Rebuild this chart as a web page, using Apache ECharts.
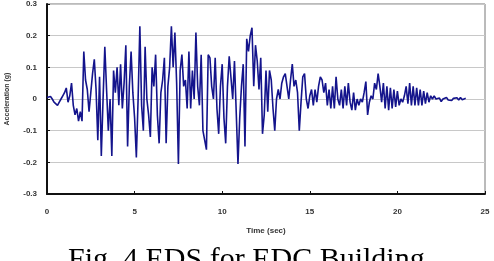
<!DOCTYPE html>
<html>
<head>
<meta charset="utf-8">
<script src="https://cdn.jsdelivr.net/npm/echarts@6/dist/echarts.min.js"></script>
<style>
html,body{margin:0;padding:0;background:#fff;}
#chart{width:494px;height:261px;}
</style>
</head>
<body>
<div id="chart"></div>
<script>
// sampling step of the record (s)
const dt = 0.1;
// acceleration (g), one value per dt starting at t = 0
const accel = [
  0.005, 0.01, 0.008, 0.0, -0.01, -0.005, -0.02, -0.01, 0.0, 0.01,
  0.02, 0.035, -0.01, 0.01, 0.05, -0.02, -0.05, -0.03, -0.07, -0.04,
  -0.07, 0.15, 0.06, 0.03, -0.04, 0.02, 0.08, 0.125, 0.03, -0.13,
  0.07, -0.18, 0.0, 0.165, 0.03, -0.1, 0.0, -0.18, 0.09, 0.02,
  0.1, -0.02, 0.11, -0.03, 0.05, 0.17, -0.15, 0.04, 0.15, 0.02,
  -0.06, -0.185, 0.0, 0.23, -0.02, -0.1, 0.165, 0.0, -0.05, -0.12,
  0.1, 0.04, 0.14, -0.05, -0.14, 0.02, 0.06, 0.13, -0.14, 0.04,
  0.1, 0.23, 0.1, 0.21, 0.05, -0.205, 0.09, 0.14, 0.04, 0.06,
  -0.03, 0.15, -0.03, 0.09, 0.0, 0.21, 0.04, -0.02, 0.14, -0.1,
  -0.13, -0.16, 0.14, 0.13, 0.04, 0.0, 0.13, -0.03, -0.11, 0.04,
  0.11, -0.06, -0.14, 0.04, 0.135, 0.13, 0.0, 0.12, -0.04, -0.205,
  -0.06, 0.04, 0.11, -0.15, 0.19, 0.15, 0.2, 0.225, 0.04, 0.17,
  0.12, 0.03, 0.13, -0.11, -0.05, 0.09, -0.04, 0.09, 0.06, -0.03,
  -0.1, 0.0, 0.03, 0.0, 0.05, 0.07, 0.08, 0.04, 0.0, 0.06,
  0.11, 0.04, 0.06, 0.02, -0.1, -0.01, 0.07, 0.08, 0.0, -0.03,
  0.01, 0.03, -0.02, 0.03, -0.01, 0.04, 0.07, 0.06, 0.02, 0.05,
  -0.02, 0.03, -0.03, 0.04, -0.03, 0.07, 0.0, -0.02, 0.03, -0.03,
  0.04, -0.02, 0.05, -0.01, -0.035, 0.02, -0.035, 0.0, -0.02, 0.0,
  -0.01, 0.02, 0.055, -0.05, -0.01, 0.01, 0.0, 0.05, 0.03, 0.08,
  0.04, -0.01, 0.05, -0.03, 0.04, -0.035, 0.035, -0.03, 0.03, -0.025,
  0.025, -0.02, 0.0, -0.01, 0.01, 0.04, -0.015, 0.05, -0.02, 0.04,
  -0.02, 0.035, -0.02, 0.03, -0.02, 0.025, -0.015, 0.02, -0.01, 0.01,
  0.0, 0.01, 0.0, -0.005, 0.003, -0.008, 0.0, -0.005, 0.005, -0.003,
  0.003, -0.005, 0.002, -0.004, 0.004, -0.003, 0.005, -0.002, 0.004, 0.002
];
const xTicks = [0, 5, 10, 15, 20, 25];
const yTicks = [-0.3, -0.2, -0.1, 0, 0.1, 0.2, 0.3];
const yTickLabels = ['-0.3', '-0.2', '-0.1', '0', '0.1', '0.2', '0.3'];
const xTitle = 'Time (sec)';
const yTitle = 'Acceleration (g)';
const caption = 'Fig. 4 EDS for EDC Building';

const points = accel.map((v, i) => [+(i * dt).toFixed(2), v]);

const chart = echarts.init(document.getElementById('chart'), null, {renderer: 'canvas'});
const labelStyle = {fontFamily: 'Liberation Sans, Arial, sans-serif', fontWeight: 'bold', fontSize: 8, color: '#333'};
chart.setOption({
  animation: false,
  backgroundColor: '#fff',
  grid: {left: 47, top: 4, width: 438, height: 190, containLabel: false, outerBoundsMode: 'none',
         show: true, borderColor: '#777', borderWidth: 1, backgroundColor: 'transparent'},
  xAxis: {
    type: 'value', min: xTicks[0], max: xTicks[xTicks.length - 1], interval: 5,
    name: xTitle, nameLocation: 'middle', nameGap: 33,
    nameTextStyle: Object.assign({}, labelStyle),
    axisLine: {onZero: false, lineStyle: {color: '#111', width: 2}},
    axisTick: {inside: true, length: 3, lineStyle: {color: '#111'}},
    axisLabel: Object.assign({margin: 14}, labelStyle),
    splitLine: {show: false}
  },
  yAxis: {
    type: 'value', min: yTicks[0], max: yTicks[yTicks.length - 1], interval: 0.1,
    name: yTitle, nameLocation: 'middle', nameGap: 36, nameRotate: 90,
    nameTextStyle: Object.assign({}, labelStyle, {fontSize: 7}),
    axisLine: {lineStyle: {color: '#111', width: 2}},
    axisTick: {inside: true, length: 3, lineStyle: {color: '#111'}},
    axisLabel: Object.assign({margin: 10, formatter: v => {
      const k = yTicks.findIndex(t => Math.abs(t - v) < 1e-6);
      return k >= 0 ? yTickLabels[k] : '';
    }}, labelStyle),
    splitLine: {show: true, lineStyle: {color: '#c8c8c8', width: 1}}
  },
  series: [{
    type: 'line', data: points, showSymbol: false, symbol: 'none',
    lineStyle: {color: '#14148c', width: 1.6}
  }],
  graphic: [{
    type: 'text', left: 68, top: 245,
    style: {text: caption, font: '30px "Liberation Serif", "Times New Roman", serif', fill: '#000'}
  }]
});
</script>
</body>
</html>
